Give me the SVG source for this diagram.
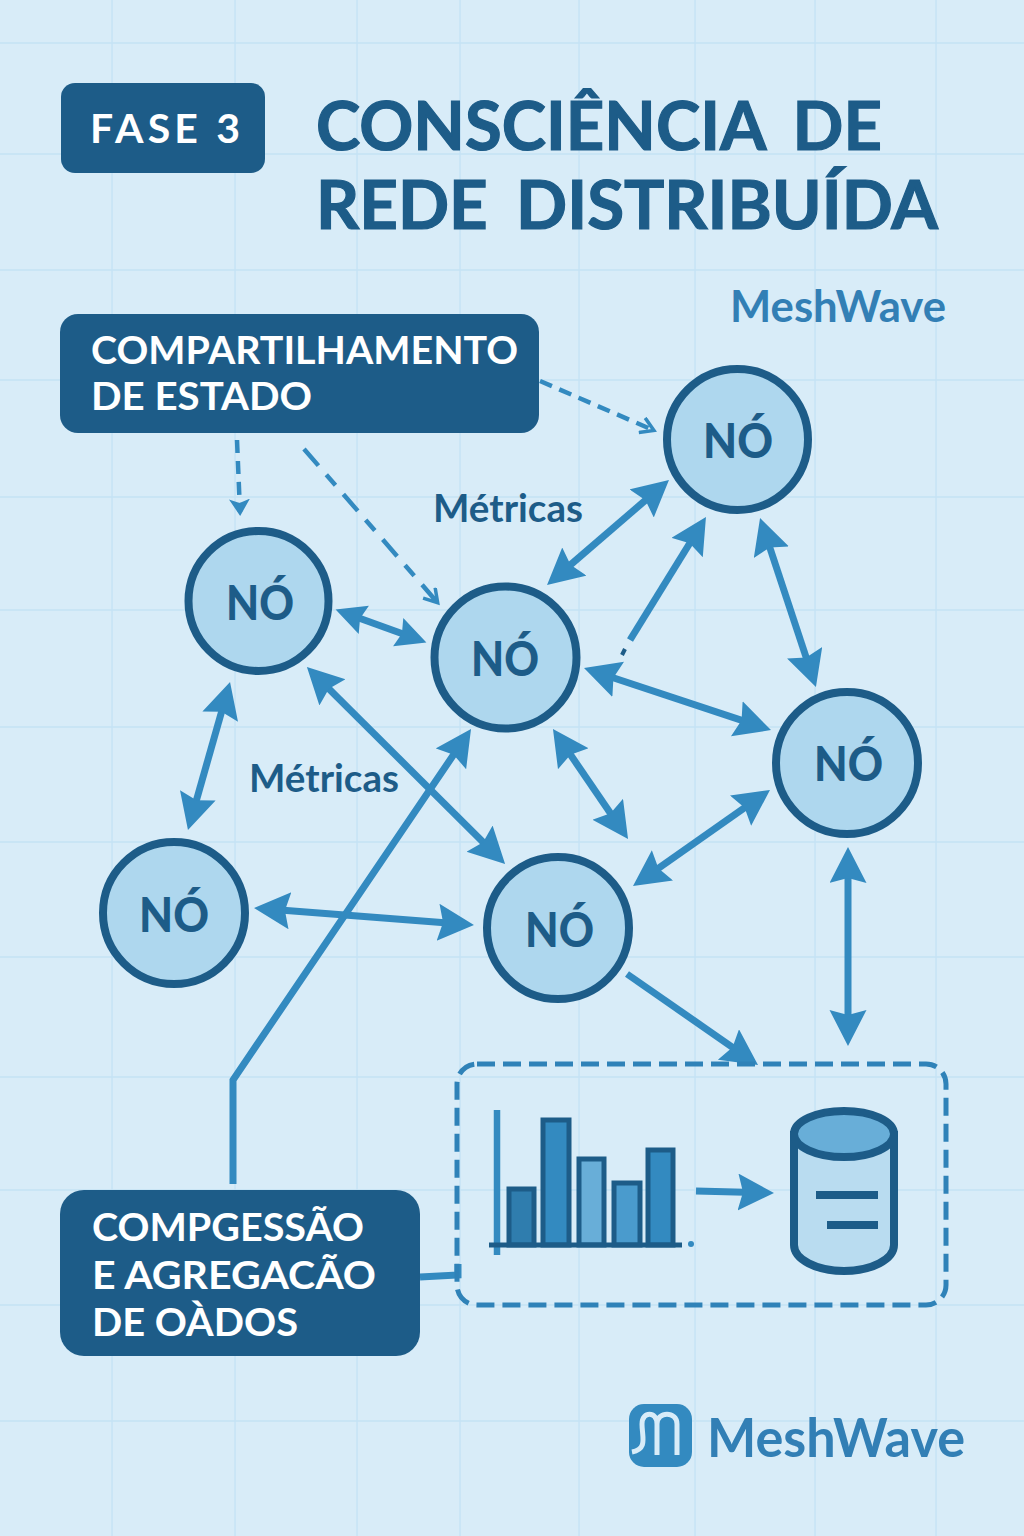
<svg xmlns="http://www.w3.org/2000/svg" width="1024" height="1536" viewBox="0 0 1024 1536">
<defs>
<style>
.grid{stroke:#c4e2f4;stroke-width:1.3;fill:none}
.box{fill:#1d5c88}
.bt{font-family:Lato,"Open Sans",sans-serif;font-weight:700;fill:#fff;font-size:38px}
.title{font-family:Lato,"Open Sans",sans-serif;font-weight:700;fill:#1d5c88;font-size:67px;stroke:#1d5c88;stroke-width:1.2;word-spacing:12px}
.node{fill:#aed7ee;stroke:#1d5c88;stroke-width:8}
.nt{font-family:Lato,"Open Sans",sans-serif;font-weight:900;fill:#1d5c88;font-size:47px}
.lab{font-family:Lato,"Open Sans",sans-serif;font-weight:700;fill:#1d5c88;font-size:39px}
.brand{font-family:Lato,"Open Sans",sans-serif;font-weight:700;fill:#327fb5}
.c{stroke:#338ac0;stroke-width:7;fill:none}
.d{stroke:#338ac0;stroke-width:4.5;fill:none}
.h{fill:#338ac0}
.bar{stroke:#1d5c88;stroke-width:5}
</style>
<marker id="ah" markerUnits="userSpaceOnUse" markerWidth="40" markerHeight="40" refX="26" refY="18.5" orient="auto-start-reverse"><path d="M0 0L36 18.500L0 37L5 18.500Z" class="h"/></marker>
<marker id="as" markerUnits="userSpaceOnUse" markerWidth="32" markerHeight="32" refX="20" refY="15" orient="auto-start-reverse"><path d="M0 0L30 15L0 30L4 15Z" class="h"/></marker>
<marker id="dh" markerUnits="userSpaceOnUse" markerWidth="24" markerHeight="24" refX="13" refY="10.5" orient="auto"><path d="M0 0L17 10.5L0 21L4 10.5Z" class="h"/></marker>
<marker id="op" markerUnits="userSpaceOnUse" markerWidth="18" markerHeight="20" refX="13" refY="9" orient="auto"><path d="M1 1L14 9L1 17" fill="none" stroke="#338ac0" stroke-width="3.5"/></marker>
</defs>
<rect width="1024" height="1536" fill="#d8ecf8"/>
<g id="grid" class="grid"><path d="M112 0V1536M235 0V1536M357 0V1536M460 0V1536M579 0V1536M695 0V1536M815 0V1536M936 0V1536M0 43H1024M0 154H1024M0 270H1024M0 380H1024M0 497H1024M0 610H1024M0 727H1024M0 842H1024M0 957H1024M0 1077H1024M0 1190H1024M0 1305H1024M0 1421H1024"/></g>

<g id="title">
<text class="title" x="316" y="150" textLength="566" lengthAdjust="spacingAndGlyphs">CONSCIÊNCIA DE</text>
<text class="title" x="316" y="229" textLength="622" lengthAdjust="spacingAndGlyphs">REDE DISTRIBUÍDA</text>
</g>
<g id="fase"><rect class="box" x="61" y="83" width="204" height="90" rx="14"/><text class="bt" x="90" y="143" textLength="150" style="font-size:41px">FASE 3</text></g>
<text id="brand-top" class="brand" x="730" y="322" style="font-size:44px" textLength="216" lengthAdjust="spacingAndGlyphs">MeshWave</text>

<g id="connectors">
<g class="d">
<path d="M540 381L653 430" stroke-dasharray="13 8" marker-end="url(#op)"/>
<path d="M237 440L240 512" stroke-dasharray="13 8" marker-end="url(#dh)"/>
<path d="M304 449L437 602" stroke-dasharray="22 12 14 12" marker-end="url(#op)"/>
</g>
<g class="c">
<path d="M554.6 578.500L661.4 486.500" marker-start="url(#ah)" marker-end="url(#ah)"/>
<path d="M630 640L700.7 525.500" marker-end="url(#ah)"/>
<path d="M763.2 527.500L812.8 677.500" marker-start="url(#ah)" marker-end="url(#ah)"/>
<path d="M345 613L417 639" marker-start="url(#as)" marker-end="url(#as)"/>
<path d="M593.5 671.2L761.5 726.9" marker-start="url(#ah)" marker-end="url(#ah)"/>
<path d="M227.3 691.6L190.7 820.4" marker-start="url(#ah)" marker-end="url(#ah)"/>
<path d="M314 674L498 857" marker-start="url(#ah)" marker-end="url(#ah)"/>
<path d="M558.6 737.3L622.4 830.7" marker-start="url(#ah)" marker-end="url(#ah)"/>
<path d="M641.2 880.3L761.8 795.7" marker-start="url(#ah)" marker-end="url(#ah)"/>
<path d="M264 908.8L464 924.2" marker-start="url(#ah)" marker-end="url(#ah)"/>
<path d="M848 857V1036" marker-start="url(#ah)" marker-end="url(#ah)"/>
<path d="M627 974L749.8 1059.3" marker-end="url(#ah)"/>
<path d="M233 1184V1080L465.4 737.3" marker-end="url(#ah)"/>
<path d="M420 1277L458 1275V1264"/>
<path d="M696 1191L764 1192.7" marker-end="url(#ah)"/>
</g>
<path d="M625 649L622 655" stroke="#1d5c88" stroke-width="4" fill="none"/>
</g>

<g id="box-estado"><rect class="box" x="60" y="314" width="479" height="119" rx="18"/><text class="bt" x="91" y="364" textLength="427" lengthAdjust="spacingAndGlyphs">COMPARTILHAMENTO</text><text class="bt" x="91" y="410" textLength="221" lengthAdjust="spacingAndGlyphs">DE ESTADO</text></g>

<g id="no-top"><circle class="node" cx="737.5" cy="439.5" r="70.5"/><text class="nt" x="703" y="458" textLength="70" lengthAdjust="spacingAndGlyphs">NÓ</text></g>
<g id="no-left"><circle class="node" cx="258.5" cy="601" r="70"/><text class="nt" x="226" y="620" textLength="68" lengthAdjust="spacingAndGlyphs">NÓ</text></g>
<g id="no-center"><circle class="node" cx="505.5" cy="657.5" r="71"/><text class="nt" x="471" y="676" textLength="68" lengthAdjust="spacingAndGlyphs">NÓ</text></g>
<g id="no-right"><circle class="node" cx="847" cy="763" r="71"/><text class="nt" x="814" y="781" textLength="69" lengthAdjust="spacingAndGlyphs">NÓ</text></g>
<g id="no-bottom-left"><circle class="node" cx="174" cy="913" r="71"/><text class="nt" x="139" y="932" textLength="70" lengthAdjust="spacingAndGlyphs">NÓ</text></g>
<g id="no-bottom"><circle class="node" cx="558" cy="928" r="71"/><text class="nt" x="525" y="947" textLength="69" lengthAdjust="spacingAndGlyphs">NÓ</text></g>

<text id="lab1" class="lab" x="433" y="522" textLength="150" lengthAdjust="spacingAndGlyphs">Métricas</text>
<text id="lab2" class="lab" x="249" y="792" textLength="150" lengthAdjust="spacingAndGlyphs">Métricas</text>

<g id="data-group">
<rect x="457" y="1064" width="489" height="241" rx="20" fill="none" stroke="#2f82b8" stroke-width="5" stroke-dasharray="18 8"/>
<path d="M497 1110V1255" stroke="#338ac0" stroke-width="6.5"/>
<g class="bar"><rect x="509" y="1189" width="25" height="56" fill="#2f7dae"/><rect x="543" y="1120" width="26" height="125" fill="#338ac0"/><rect x="579" y="1159" width="25" height="86" fill="#68aed8"/><rect x="614" y="1183" width="26" height="62" fill="#4a9bcd"/><rect x="648" y="1150" width="25" height="95" fill="#338ac0"/></g>
<path d="M489 1245H682" stroke="#1d5c88" stroke-width="5"/><circle cx="691" cy="1244" r="3" fill="#338ac0"/>
<path d="M794 1135V1245A50 26 0 0 0 894 1245V1135Z" fill="#b9dcf0" stroke="#1d5c88" stroke-width="8"/>
<ellipse cx="844" cy="1134" rx="50" ry="23" fill="#68aed8" stroke="#1d5c88" stroke-width="8"/>
<path d="M816 1195H878M827 1225H878" stroke="#1d5c88" stroke-width="8"/>
</g>

<g id="box-dados"><rect class="box" x="60" y="1190" width="360" height="166" rx="24"/>
<text class="bt" x="92" y="1241" textLength="272" lengthAdjust="spacingAndGlyphs">COMPGESSÃO</text>
<text class="bt" x="92" y="1289" textLength="284" lengthAdjust="spacingAndGlyphs">E AGREGACÃO</text>
<text class="bt" x="92" y="1336" textLength="206" lengthAdjust="spacingAndGlyphs">DE OÀDOS</text></g>

<g id="logo"><rect x="629" y="1404" width="63" height="63" rx="15" fill="#338ac0"/>
<path d="M632 1452C648 1449 642 1437 642 1424C642 1411 657 1411 657 1424V1455M657 1424C657 1411 677 1411 677 1424V1455" fill="none" stroke="#d8ecf8" stroke-width="5"/>
<text class="brand" x="707" y="1457" style="font-size:53px" textLength="258" lengthAdjust="spacingAndGlyphs">MeshWave</text></g>
</svg>
